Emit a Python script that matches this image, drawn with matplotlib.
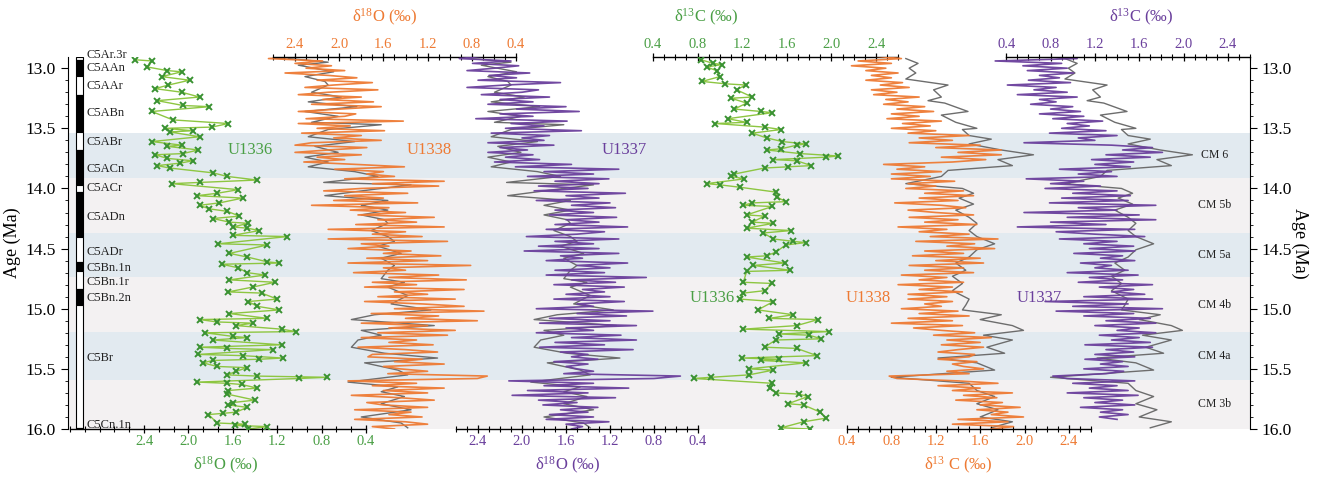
import matplotlib.pyplot as plt
import numpy as np
from matplotlib.ticker import MultipleLocator, FormatStrFormatter
from matplotlib.transforms import blended_transform_factory

plt.rcParams['font.family'] = ['Liberation Serif', 'DejaVu Serif']
plt.rcParams['mathtext.fontset'] = 'custom'
plt.rcParams['mathtext.rm'] = 'Liberation Serif'
plt.rcParams['mathtext.it'] = 'Liberation Serif:italic'

GREEN_TXT = '#4a9f45'
GREEN_LINE = '#8dc641'
GREEN_MK = '#3a9232'
ORANGE = '#ee7a33'
PURPLE = '#6a3f9c'
GRAY = '#6d6d6d'
BAND_BLUE = '#e2eaf0'
BAND_PINK = '#f3f1f2'

# ---------------- data ----------------
# U1336 (low resolution, crosses)
age_1336_o = [12.93, 12.94, 12.99, 13.02, 13.03, 13.07, 13.10, 13.14, 13.17, 13.20,
              13.24, 13.27, 13.31, 13.32, 13.36, 13.43, 13.46, 13.49, 13.50, 13.52,
              13.53, 13.57, 13.61, 13.64, 13.65, 13.68, 13.71, 13.72, 13.75, 13.77,
              13.79, 13.81, 13.83, 13.87, 13.90, 13.93, 13.95, 13.96, 14.01, 14.04,
              14.06, 14.08, 14.12, 14.14, 14.17, 14.19, 14.23, 14.25, 14.28, 14.29,
              14.32, 14.33, 14.35, 14.39, 14.40, 14.46, 14.47, 14.54, 14.57, 14.61,
              14.62, 14.63, 14.66, 14.70, 14.72, 14.76, 14.78, 14.82, 14.86, 14.87,
              14.92, 14.94, 14.98, 15.01, 15.04, 15.08, 15.09, 15.11, 15.12, 15.14,
              15.17, 15.19, 15.20, 15.23, 15.24, 15.26, 15.30, 15.32, 15.33, 15.34,
              15.38, 15.39, 15.41, 15.42, 15.43, 15.45, 15.48, 15.49, 15.52, 15.55,
              15.56, 15.57, 15.58, 15.61, 15.62, 15.63, 15.66, 15.68, 15.71, 15.76,
              15.78, 15.80, 15.82, 15.86, 15.87, 15.88, 15.95, 15.96, 15.97, 15.98,
              16.00]
d18o_1336 = [2.48, 2.33, 2.37, 2.19, 2.06, 2.24, 1.99, 2.18, 2.30, 2.06,
             1.90, 2.28, 2.05, 1.81, 2.33, 2.14, 1.64, 1.79, 2.21, 1.96,
             2.17, 1.90, 2.33, 2.06, 2.19, 1.91, 2.05, 2.30, 2.19, 1.96,
             2.08, 2.28, 2.17, 1.78, 1.65, 1.38, 1.90, 2.15, 1.55, 1.74,
             1.92, 1.51, 1.72, 1.90, 1.81, 1.65, 1.54, 1.78, 1.63, 1.46,
             1.60, 1.47, 1.36, 1.60, 1.11, 1.73, 1.29, 1.63, 1.47, 1.29,
             1.18, 1.70, 1.55, 1.47, 1.31, 1.63, 1.22, 1.42, 1.64, 1.34,
             1.20, 1.46, 1.38, 1.18, 1.63, 1.29, 1.90, 1.74, 1.42, 1.57,
             1.16, 1.03, 1.85, 1.60, 1.47, 1.78, 1.16, 1.90, 1.65, 1.24,
             1.91, 1.51, 1.15, 1.36, 1.78, 1.87, 1.74, 1.47, 1.57, 1.65,
             1.38, 0.75, 1.00, 1.92, 1.65, 1.52, 1.38, 1.64, 1.65, 1.40,
             1.60, 1.64, 1.47, 1.57, 1.69, 1.82, 1.74, 1.49, 1.58, 1.29,
             1.46]

age_1336_c = [12.93, 12.96, 12.97, 12.99, 13.02, 13.07, 13.11, 13.13, 13.14, 13.18,
              13.24, 13.25, 13.29, 13.34, 13.36, 13.37, 13.42, 13.45, 13.46, 13.49,
              13.51, 13.54, 13.58, 13.61, 13.63, 13.64, 13.67, 13.68, 13.71, 13.73,
              13.74, 13.76, 13.77, 13.81, 13.82, 13.83, 13.88, 13.90, 13.92, 13.96,
              13.97, 13.99, 14.03, 14.07, 14.11, 14.12, 14.14, 14.15, 14.22, 14.23,
              14.28, 14.29, 14.33, 14.35, 14.37, 14.42, 14.44, 14.45, 14.47, 14.53,
              14.56, 14.57, 14.62, 14.64, 14.68, 14.69, 14.78, 14.79, 14.85, 14.87,
              14.92, 14.94, 15.01, 15.05, 15.08, 15.09, 15.14, 15.17, 15.19, 15.21,
              15.22, 15.25, 15.26, 15.32, 15.33, 15.39, 15.41, 15.42, 15.43, 15.45,
              15.50, 15.51, 15.55, 15.57, 15.58, 15.62, 15.66, 15.70, 15.71, 15.73,
              15.79, 15.80, 15.86, 15.91, 15.94, 15.99, 16.00]
d13c_1336 = [0.83, 0.94, 1.02, 0.88, 0.97, 1.00, 0.84, 1.05, 1.23, 1.15,
             1.29, 1.10, 1.24, 1.13, 1.37, 1.47, 1.07, 1.24, 0.96, 1.40,
             1.55, 1.29, 1.42, 1.56, 1.77, 1.69, 1.55, 1.42, 1.72, 2.06,
             1.95, 1.48, 1.69, 1.82, 1.61, 1.40, 1.13, 1.10, 1.22, 0.88,
             1.00, 1.18, 1.50, 1.51, 1.59, 1.29, 1.21, 1.47, 1.24, 1.40,
             1.29, 1.48, 1.24, 1.64, 1.39, 1.48, 1.66, 1.77, 1.59, 1.50,
             1.42, 1.24, 1.58, 1.30, 1.63, 1.24, 1.21, 1.47, 1.40, 1.21,
             1.18, 1.48, 1.34, 1.66, 1.44, 1.88, 1.69, 1.21, 1.98, 1.53,
             1.80, 1.91, 1.50, 1.40, 1.69, 1.87, 1.20, 1.53, 1.37, 1.77,
             1.26, 1.48, 1.26, 0.92, 0.77, 1.47, 1.45, 1.50, 1.71, 1.79,
             1.61, 1.75, 1.90, 1.95, 1.75, 1.55, 1.81]

# U1338 / U1337 high resolution records, one value every 20 kyr from 12.9 Ma
age_hr = np.round(12.9 + 0.02 * np.arange(156), 3)
d18o_1338 = [2.28, 2.64, 2.15, 2.40, 2.07, 2.30, 1.95, 2.49, 2.10, 1.84,
             2.20, 1.70, 2.05, 2.31, 1.65, 2.10, 2.37, 1.80, 2.15, 1.69,
             2.25, 1.62, 2.00, 2.37, 1.85, 1.95, 2.30, 1.42, 2.37, 1.90,
             2.20, 1.59, 2.34, 1.80, 2.05, 1.62, 2.25, 2.40, 1.75, 2.10,
             2.40, 1.80, 2.20, 1.95, 2.32, 1.85, 1.41, 2.04, 1.60, 1.75,
             1.50, 1.95, 1.05, 1.70, 1.10, 1.80, 2.14, 1.38, 1.95, 1.60,
             2.05, 1.29, 2.25, 1.55, 1.90, 1.40, 1.83, 1.14, 1.65, 1.30,
             1.85, 1.05, 2.10, 1.40, 1.70, 1.25, 2.10, 1.02, 1.80, 1.55,
             1.92, 1.35, 1.60, 1.08, 1.75, 1.20, 1.92, 0.81, 1.60, 1.40,
             1.87, 1.10, 1.55, 0.85, 1.70, 1.30, 1.77, 0.87, 1.50, 1.20,
             1.65, 0.95, 1.77, 1.25, 0.87, 1.50, 0.69, 1.71, 1.10, 1.40,
             0.75, 1.80, 1.20, 1.55, 0.95, 1.65, 1.02, 1.80, 1.30, 1.55,
             1.15, 1.83, 1.40, 1.11, 1.70, 1.74, 1.25, 1.50, 1.05, 1.60,
             1.45, 1.20, 1.56, 0.66, 0.75, 1.92, 1.30, 1.70, 1.05, 1.60,
             1.20, 1.89, 1.45, 1.14, 1.75, 1.60, 1.20, 1.86, 1.35, 1.55,
             1.25, 1.86, 1.40, 1.20, 1.70, 1.50]
d18o_1337 = [2.35, 2.57, 2.10, 2.45, 2.03, 2.25, 2.50, 1.93, 2.30, 2.05,
             2.40, 1.65, 2.15, 2.50, 1.85, 2.00, 2.37, 1.75, 2.20, 1.90,
             2.31, 1.60, 2.05, 1.48, 2.20, 1.90, 2.42, 1.59, 2.10, 1.80,
             2.15, 1.46, 2.28, 1.75, 2.00, 1.80, 2.31, 1.71, 2.20, 1.95,
             2.31, 1.90, 2.15, 1.84, 2.25, 1.55, 2.06, 1.12, 1.80, 1.35,
             1.95, 1.21, 1.70, 1.30, 1.85, 1.40, 1.89, 1.06, 1.60, 1.30,
             1.87, 1.20, 1.55, 1.15, 1.70, 1.35, 1.75, 1.14, 1.60, 1.30,
             1.70, 1.04, 1.78, 1.25, 1.50, 1.96, 1.12, 1.70, 1.35, 1.85,
             1.30, 1.98, 1.12, 1.65, 1.45, 1.78, 1.04, 1.50, 1.20, 1.70,
             1.25, 1.78, 0.87, 1.55, 1.15, 1.71, 1.07, 1.45, 1.25, 1.60,
             1.20, 1.71, 1.07, 1.50, 1.35, 1.87, 0.81, 1.50, 1.05, 1.75,
             1.20, 1.84, 0.96, 1.60, 1.35, 1.87, 1.10, 1.55, 0.96, 1.70,
             1.25, 1.84, 0.99, 1.65, 1.40, 1.55, 1.31, 1.71, 1.40, 1.60,
             1.50, 1.35, 1.62, 0.56, 0.80, 2.12, 1.35, 1.80, 1.03, 1.95,
             1.40, 2.09, 1.15, 1.85, 1.50, 1.81, 1.31, 1.65, 1.40, 1.75,
             1.35, 1.78, 1.21, 1.60, 1.45, 1.55]
d13c_1338 = [0.65, 0.89, 0.50, 0.80, 0.44, 0.75, 0.57, 0.86, 0.62, 0.80,
              0.57, 0.90, 0.70, 0.96, 0.62, 0.85, 0.64, 1.05, 0.75, 0.95,
              0.73, 1.10, 0.85, 1.18, 0.80, 1.05, 0.76, 1.25, 0.90, 1.15,
              0.80, 1.20, 0.95, 1.50, 1.05, 1.35, 0.96, 1.60, 1.20, 1.79,
              1.40, 1.79, 1.25, 1.65, 1.35, 0.73, 1.10, 0.85, 1.25, 0.80,
              1.15, 0.80, 1.37, 0.95, 1.20, 0.93, 1.45, 1.10, 1.54, 1.05,
              1.40, 0.83, 1.25, 1.47, 0.95, 1.20, 1.54, 0.96, 1.40, 1.10,
              1.57, 0.86, 1.30, 1.05, 1.50, 1.15, 1.76, 1.02, 1.55, 1.30,
              1.73, 1.10, 1.45, 0.99, 1.60, 1.20, 1.63, 0.96, 1.45, 1.10,
              1.54, 0.89, 1.30, 1.05, 1.45, 0.86, 1.35, 1.05, 1.44, 0.95,
              1.30, 0.95, 1.35, 1.10, 1.25, 0.89, 1.40, 1.05, 1.50, 0.95,
              1.35, 0.80, 1.44, 1.00, 1.25, 1.55, 1.18, 1.70, 1.30, 1.60,
              1.25, 1.63, 1.40, 1.22, 1.55, 1.50, 1.22, 1.57, 1.35, 1.45,
              1.63, 1.30, 1.50, 0.78, 0.85, 1.40, 1.76, 1.22, 1.60, 1.35,
              1.89, 1.45, 1.75, 1.38, 1.80, 1.60, 1.96, 1.57, 1.85, 1.70,
              1.99, 1.40, 1.85, 1.35, 1.90, 1.70]
d13c_1337 = [0.70, 1.04, 0.30, 0.90, 0.55, 0.95, 0.59, 1.01, 0.70, 0.88,
             0.60, 0.98, 0.41, 0.85, 0.65, 0.95, 0.50, 1.04, 0.70, 0.85,
             0.62, 1.00, 0.80, 1.07, 0.70, 1.10, 0.82, 1.27, 0.95, 1.15,
             0.90, 1.30, 0.79, 1.40, 1.05, 1.20, 0.56, 1.35, 1.72, 1.45,
             1.81, 1.30, 1.70, 1.17, 1.55, 1.20, 1.52, 0.88, 1.35, 1.05,
             1.40, 0.58, 1.10, 0.80, 1.25, 0.75, 1.40, 1.00, 1.52, 0.90,
             1.50, 0.79, 1.75, 1.05, 1.40, 0.56, 1.60, 0.95, 1.75, 0.80,
             1.30, 0.50, 1.56, 0.85, 1.20, 1.65, 0.88, 1.40, 1.10, 1.55,
             1.15, 1.56, 1.01, 1.45, 1.25, 1.56, 1.07, 1.35, 1.20, 1.50,
             0.95, 1.59, 1.15, 1.45, 1.05, 1.72, 1.24, 1.55, 1.35, 1.65,
             1.10, 1.72, 0.75, 1.50, 1.00, 1.81, 0.85, 1.55, 1.10, 1.70,
             1.30, 1.75, 1.20, 1.60, 1.40, 1.75, 1.24, 1.60, 1.35, 1.70,
             1.11, 1.72, 1.30, 1.55, 1.20, 1.56, 1.11, 1.45, 1.25, 1.50,
             1.10, 1.46, 1.30, 0.82, 0.95, 1.56, 1.00, 1.40, 1.15, 1.50,
             0.95, 1.59, 1.10, 1.45, 1.20, 1.56, 1.07, 1.45, 1.25, 1.50,
             1.24, 1.40]

# reference record drawn in gray behind U1338 and U1337
age_ref_o = [12.92, 12.95, 12.975, 13.03, 13.07, 13.11, 13.14, 13.20, 13.24, 13.28,
             13.32, 13.36, 13.40, 13.45, 13.47, 13.51, 13.57, 13.61, 13.65, 13.70,
             13.74, 13.78, 13.82, 13.86, 13.90, 13.95, 13.97, 14.01, 14.06, 14.10,
             14.14, 14.18, 14.22, 14.26, 14.29, 14.35, 14.40, 14.44, 14.48, 14.54,
             14.58, 14.64, 14.68, 14.75, 14.78, 14.82, 14.89, 14.96, 15.01, 15.05,
             15.09, 15.14, 15.18, 15.22, 15.26, 15.32, 15.37, 15.41, 15.45, 15.51,
             15.55, 15.61, 15.65, 15.69, 15.73, 15.79, 15.84, 15.90, 15.95, 15.99]
d18o_ref = [2.46, 2.10, 2.37, 2.05, 2.31, 2.13, 2.10, 2.25, 1.98, 2.28,
            1.84, 2.31, 2.01, 2.25, 1.62, 2.10, 2.28, 1.86, 2.22, 2.01,
            2.31, 2.10, 2.28, 1.86, 1.65, 2.14, 1.35, 1.71, 2.13, 1.56,
            1.80, 1.56, 1.80, 1.59, 1.56, 1.71, 1.56, 1.50, 1.65, 1.44,
            1.62, 1.50, 1.56, 1.62, 1.41, 1.56, 1.38, 1.53, 1.17, 1.68,
            1.89, 1.14, 1.80, 1.62, 1.83, 1.89, 1.59, 1.11, 1.77, 1.47,
            1.38, 1.92, 1.47, 1.62, 1.41, 1.62, 1.35, 1.80, 1.44, 1.38]
age_ref_c = [12.92, 12.96, 13.00, 13.04, 13.09, 13.14, 13.18, 13.24, 13.27, 13.29,
             13.36, 13.39, 13.45, 13.50, 13.51, 13.56, 13.59, 13.63, 13.68, 13.72,
             13.76, 13.81, 13.85, 13.90, 13.96, 14.00, 14.04, 14.08, 14.13, 14.18,
             14.24, 14.29, 14.35, 14.40, 14.46, 14.51, 14.57, 14.62, 14.68, 14.73,
             14.79, 14.85, 14.92, 14.97, 15.01, 15.05, 15.09, 15.14, 15.18, 15.22,
             15.26, 15.32, 15.37, 15.41, 15.45, 15.51, 15.57, 15.62, 15.68, 15.73,
             15.79, 15.84, 15.90, 15.94, 15.99]
d13c_ref = [0.93, 1.04, 0.96, 1.02, 0.93, 1.31, 1.18, 1.25, 1.13, 1.28,
            1.49, 1.25, 1.38, 1.57, 1.44, 1.50, 1.70, 1.50, 1.79, 2.08,
            1.76, 1.89, 1.31, 1.25, 0.93, 1.44, 1.54, 1.41, 1.54, 1.38,
            1.50, 1.57, 1.50, 1.57, 1.73, 1.57, 1.50, 1.38, 1.47, 1.35,
            1.44, 1.35, 1.50, 1.47, 1.44, 1.79, 1.60, 1.89, 1.99, 1.63,
            1.89, 1.66, 1.82, 1.22, 1.57, 1.73, 0.80, 1.50, 1.57, 1.73,
            1.57, 1.76, 1.60, 1.89, 1.70]

# carbon maxima intervals
cm_names = ['CM 6', 'CM 5b', 'CM 5a', 'CM 4b', 'CM 4a', 'CM 3b']
cm_edges = [13.54, 13.91, 14.37, 14.74, 15.19, 15.59, 16.0]

# magnetostratigraphy
chron_names = ['C5Ar.3r', 'C5AAn', 'C5AAr', 'C5ABn', 'C5ABr', 'C5ACn', 'C5ACr',
               'C5ADn', 'C5ADr', 'C5Bn.1n', 'C5Bn.1r', 'C5Bn.2n', 'C5Br', 'C5Cn.1n']
chron_edges = [12.907, 12.928, 13.067, 13.22, 13.53, 13.68, 13.97, 14.03, 14.40,
               14.61, 14.69, 14.84, 14.97, 15.99, 16.0]
chron_normal = [0, 1, 0, 1, 0, 1, 0, 1, 0, 1, 0, 1, 0, 1]
chron_label_age = [12.89, 13.0, 13.15, 13.37, 13.61, 13.84, 14.0, 14.24, 14.53,
                   14.66, 14.78, 14.91, 15.41, 15.97]

# ---------------- figure ----------------
W, H = 1320, 478
X0, X1, Y0, Y1 = 68, 1250, 57, 429
fig = plt.figure(figsize=(W / 100, H / 100), dpi=100)
ax = fig.add_axes([X0 / W, (H - Y1) / H, (X1 - X0) / W, (Y1 - Y0) / H])
ax.set_xlim(0, 1)
ax.set_ylim(16.0, 12.907)
bt = blended_transform_factory(ax.transAxes, ax.transData)

for i in range(len(cm_names)):
    ax.axhspan(cm_edges[i], cm_edges[i + 1], color=BAND_BLUE if i % 2 == 0 else BAND_PINK,
               lw=0, zorder=0)
    ax.text(0.970, (cm_edges[i] + cm_edges[i + 1]) / 2, cm_names[i], transform=bt,
            ha='center', va='center', fontsize=8.5, color='#222222')

# polarity column
cx0, cx1 = 0.0068, 0.0127
for i, n in enumerate(chron_normal):
    ax.axhspan(chron_edges[i], chron_edges[i + 1], xmin=cx0, xmax=cx1,
               facecolor='black' if n else 'white', edgecolor='black', lw=0.8, zorder=3)
for name, a in zip(chron_names, chron_label_age):
    ax.text(0.0155, a, name, transform=bt, ha='left', va='center', fontsize=9,
            color='#222222', clip_on=False)

ax.set_xticks([])
for s in ['top', 'bottom']:
    ax.spines[s].set_visible(False)
ax.yaxis.set_major_locator(MultipleLocator(0.5))
ax.yaxis.set_minor_locator(MultipleLocator(0.1))
ax.yaxis.set_major_formatter(FormatStrFormatter('%.1f'))
ax.tick_params(axis='y', which='both', left=True, right=True, labelleft=True,
               labelright=True, direction='out', labelsize=12.5)
ax.tick_params(axis='y', which='major', length=5)
ax.tick_params(axis='y', which='minor', length=2.5)
ax.set_ylabel('Age (Ma)', fontsize=13)
ax.yaxis.set_label_coords(-0.040, 0.5)
ax.text(1.042, 0.5, 'Age (Ma)', transform=ax.transAxes, rotation=270,
        ha='center', va='center', fontsize=13)


def add_scale(side, v_a, px_a, v_b, px_b, lo, hi, minor_step, color):
    tw = ax.twiny()
    k = (px_b - px_a) / (v_b - v_a)
    tw.set_xlim(v_a + (X0 - px_a) / k, v_a + (X1 - px_a) / k)
    for s in tw.spines.values():
        s.set_visible(False)
    sp = tw.spines[side]
    sp.set_visible(True)
    sp.set_bounds(min(lo, hi), max(lo, hi))
    sp.set_linewidth(1.0)
    tw.xaxis.set_ticks_position(side)
    tw.set_xticks([0.4, 0.8, 1.2, 1.6, 2.0, 2.4])
    n = int(round(abs(hi - lo) / minor_step))
    tw.set_xticks([min(lo, hi) + j * minor_step for j in range(n + 1)], minor=True)
    tw.xaxis.set_major_formatter(FormatStrFormatter('%.1f'))
    tw.tick_params(axis='x', which='major', direction='inout', length=6, width=0.9,
                   labelcolor=color, labelsize=10.5, pad=1)
    tw.tick_params(axis='x', which='minor', direction='inout', length=4, width=0.8)
    return tw


ax_o1336 = add_scale('bottom', 2.4, 144, 0.4, 366, 3.067, 0.4, 0.4 / 3, GREEN_TXT)
ax_o1338 = add_scale('top', 2.4, 295, 0.4, 516, 2.6, 0.4, 0.1, ORANGE)
ax_o1337 = add_scale('bottom', 2.4, 478, 0.4, 698, 2.6, 0.4, 0.1, PURPLE)
ax_c1336 = add_scale('top', 0.4, 653, 2.4, 876, 0.4, 2.6, 0.1, GREEN_TXT)
ax_c1338 = add_scale('bottom', 0.4, 847, 2.4, 1069, 0.4, 2.6, 0.1, ORANGE)
ax_c1337 = add_scale('top', 0.4, 1008, 2.4, 1230, 0.4, 2.6, 0.1, PURPLE)

# gray reference
for a in (ax_o1338, ax_o1337):
    a.plot(d18o_ref, age_ref_o, color=GRAY, lw=1.0, zorder=1)
for a in (ax_c1338, ax_c1337):
    a.plot(d13c_ref, age_ref_c, color=GRAY, lw=1.0, zorder=1)

hr_kw = dict(lw=1.2, alpha=0.95, zorder=2)
ax_o1338.plot(d18o_1338, age_hr, color=ORANGE, **hr_kw)
ax_o1337.plot(d18o_1337, age_hr, color=PURPLE, **hr_kw)
ax_c1338.plot(d13c_1338, age_hr, color=ORANGE, **hr_kw)
ax_c1337.plot(d13c_1337, age_hr[:len(d13c_1337)], color=PURPLE, **hr_kw)

ax_o1336.plot(d18o_1336, age_1336_o, color=GREEN_LINE, lw=1.0, zorder=2)
ax_o1336.plot(d18o_1336, age_1336_o, 'x', color=GREEN_MK, ms=4, mew=1.4, zorder=3)
ax_c1336.plot(d13c_1336, age_1336_c, color=GREEN_LINE, lw=1.0, zorder=2)
ax_c1336.plot(d13c_1336, age_1336_c, 'x', color=GREEN_MK, ms=4, mew=1.4, zorder=3)

# axis titles
title_kw = dict(transform=ax.transAxes, ha='center', va='center', fontsize=12)
ax.text(0.133, -0.097, 'δ$^{18}$O (‰)', color=GREEN_TXT, **title_kw)
ax.text(0.423, -0.097, 'δ$^{18}$O (‰)', color=PURPLE, **title_kw)
ax.text(0.753, -0.097, 'δ$^{13}$ C (‰)', color=ORANGE, **title_kw)
ax.text(0.268, 1.105, 'δ$^{18}$O (‰)', color=ORANGE, **title_kw)
ax.text(0.540, 1.105, 'δ$^{13}$C (‰)', color=GREEN_TXT, **title_kw)
ax.text(0.908, 1.105, 'δ$^{13}$C (‰)', color=PURPLE, **title_kw)

# site labels
site_kw = dict(transform=bt, ha='center', va='center', fontsize=12)
ax.text(0.154, 13.68, 'U1336', color=GREEN_TXT, **site_kw)
ax.text(0.306, 13.68, 'U1338', color=ORANGE, **site_kw)
ax.text(0.471, 13.68, 'U1337', color=PURPLE, **site_kw)
ax.text(0.545, 14.91, 'U1336', color=GREEN_TXT, **site_kw)
ax.text(0.677, 14.91, 'U1338', color=ORANGE, **site_kw)
ax.text(0.822, 14.91, 'U1337', color=PURPLE, **site_kw)

fig.savefig('out.png', dpi=100)
